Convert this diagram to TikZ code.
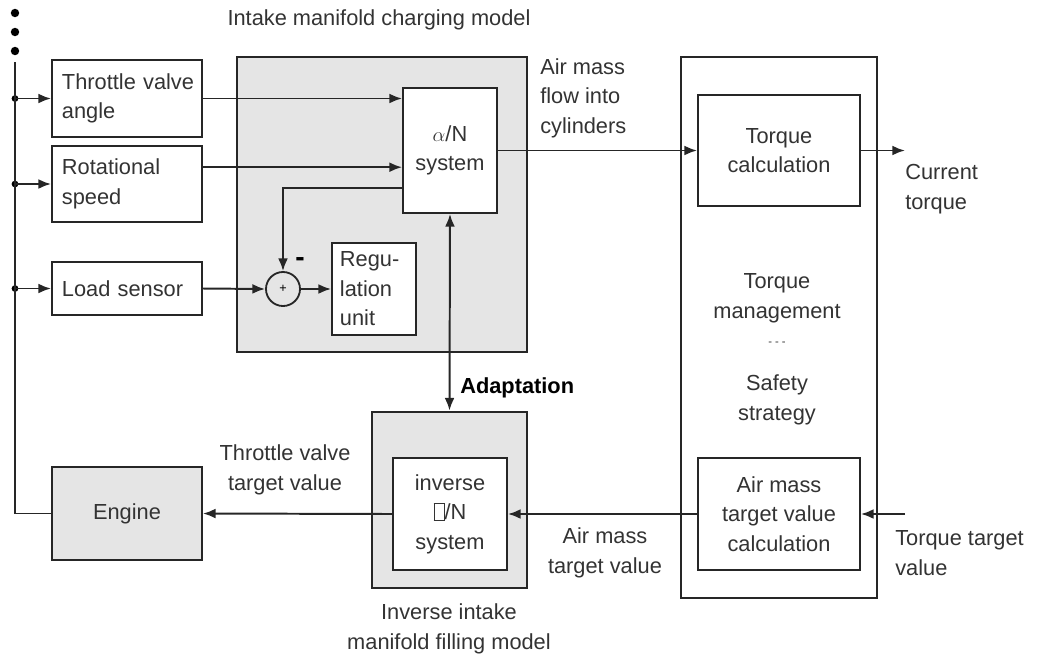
\documentclass[tikz,border=0pt]{standalone}
\usepackage{fontspec}
\setmainfont{Liberation Sans}
\usepackage{tikz}
\usetikzlibrary{arrows.meta,positioning}

\newcommand{\lostglyph}{{\setlength{\fboxsep}{0pt}\setlength{\fboxrule}{0.7pt}\fbox{\rule{0.42em}{0pt}\rule{0pt}{0.7em}}}}

\tikzset{
  blk/.style={draw=black!85, line width=1.3pt, fill=white, inner sep=0pt, text=black!80},
  grayblk/.style={draw=black!85, line width=2pt, fill=black!10, inner sep=0pt, text=black!80},
  lbl/.style={text=black!80, inner sep=0pt},
  sig/.style={line width=1.4pt, draw=black!85, -{Latex[length=9pt,width=7pt]}},
}

\begin{document}
\begin{tikzpicture}[x=0.025cm, y=-0.025cm, font=\fontsize{15.5}{21}\selectfont]
    \useasboundingbox (0,0) rectangle (1040,660);

    % outer frames
    \node[grayblk, minimum width=7.25cm, minimum height=7.375cm] (charge) at (382,204.5) {};
    \node[grayblk, minimum width=3.875cm, minimum height=4.4cm] (invout) at (449.5,500) {};
    \node[blk, minimum width=4.9cm, minimum height=13.525cm] (tman) at (779,327.5) {};

    % sensor inputs
    \node[blk, minimum width=3.75cm, minimum height=1.925cm, text width=3.25cm, align=left] (throt) at (127,98.5) {\mbox{Throttle valve}\\angle};
    \node[blk, minimum width=3.75cm, minimum height=1.9cm, text width=3.25cm, align=left] (rot) at (127,184) {Rotational\\speed};
    \node[blk, minimum width=3.75cm, minimum height=1.325cm, text width=3.25cm, align=left] (load) at (127,288.5) {Load sensor};
    \node[grayblk, line width=1.3pt, minimum width=3.75cm, minimum height=2.325cm] (eng) at (127,513.5) {Engine};

    % inner blocks
    \node[blk, minimum width=2.35cm, minimum height=3.125cm, align=center] (an) at (450,150.5) {$\alpha$/N\\system};
    \node[blk, minimum width=2.1cm, minimum height=2.3cm, text width=1.7cm, align=left] (reg) at (374,289) {Regu-\\lation\\unit};
    \node[circle, draw=black!85, line width=1.3pt, minimum size=0.85cm, inner sep=0pt, font=\small] (sum) at (283,289) {+};
    \node[blk, minimum width=2.85cm, minimum height=2.8cm, align=center] (invin) at (450,514) {inverse\\\lostglyph/N\\system};
    \node[blk, minimum width=4.05cm, minimum height=2.775cm, align=center] (tcalc) at (779,150.5) {Torque\\calculation};
    \node[blk, minimum width=4.05cm, minimum height=2.8cm, align=center] (acalc) at (779,514) {Air mass\\target value\\calculation};

    % texts
    \node[lbl] (ttl1) at (379,20) {Intake manifold charging model};
    \node[lbl, align=center] (ttl2) at (449,629) {Inverse intake\\manifold filling model};
    \node[lbl, align=left, anchor=west] (amf) at (540,98) {Air mass\\flow into\\cylinders};
    \node[lbl, align=left, anchor=west] (curt) at (905,189) {Current\\torque};
    \node[lbl, align=left, anchor=west] (ttv) at (895,553) {Torque target\\value};
    \node[lbl, align=center] (amtv) at (605,553) {Air mass\\target value};
    \node[lbl, align=center] (tvtv) at (285,470) {Throttle valve\\target value};
    \node[lbl, anchor=west, font=\fontsize{15.5}{21}\selectfont\bfseries, text=black] (adapt) at (460,388) {Adaptation};
    \node[lbl, align=center] (tmg) at (777,298) {Torque\\management};
    \node[lbl, font=\footnotesize] (dsh) at (777,344) {- - -};
    \node[lbl, align=center] (safe) at (777,400) {Safety\\strategy};
    \node[lbl, font=\fontsize{20}{20}\selectfont\bfseries, text=black] (minus) at (300,262) {-};

    % bus
    \coordinate (bustop) at (15,62);
    \coordinate (b1) at (15,98.5);
    \coordinate (b2) at (15,184);
    \coordinate (b3) at (15,288.5);
    \foreach \d in {13,32,51} \fill (15,\d) circle (3pt);
    \foreach \b in {b1,b2,b3} \fill (\b) circle (2.4pt);
    \draw[line width=1.4pt, black!85] (bustop) |- (eng.west);
    \draw[sig] (b1) -- (throt.west);
    \draw[sig] (b2) -- (rot.west);
    \draw[sig] (b3) -- (load.west);

    % signal flow
    \coordinate (rotout) at ([yshift=0.42cm]rot.east);
    \draw[sig] (throt.east) -- (throt.east -| an.west);
    \draw[sig] (rotout) -- (rotout -| an.west);
    \draw[sig] ([yshift=-0.94cm]an.west) -| (sum.north);
    \draw[sig] (load.east) -- (sum.west);
    \draw[sig] (sum.east) -- (reg.west);
    \draw[sig, {Latex[length=9pt,width=7pt]}-{Latex[length=9pt,width=7pt]}] (an.south) -- (invout.north);
    \draw[sig] (an.east) -- (tcalc.west);
    \coordinate (curout) at (905,150.5);
    \draw[sig] (tcalc.east) -- (curout);
    \coordinate (ttvin) at (905,514);
    \draw[sig] (ttvin) -- (acalc.east);
    \draw[sig] (acalc.west) -- (invin.east);
    \draw[sig] (invin.west) -- (eng.east);
\end{tikzpicture}
\end{document}
